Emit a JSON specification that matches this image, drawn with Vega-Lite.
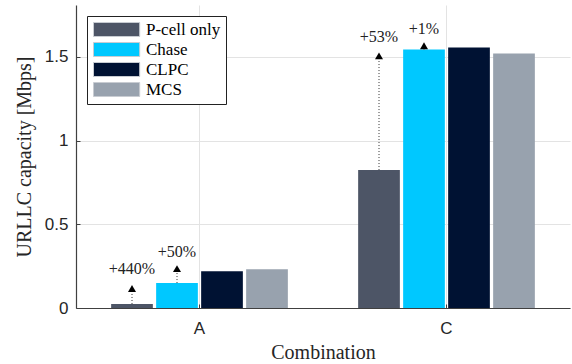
{
  "$schema": "https://vega.github.io/schema/vega-lite/v6.json",
  "width": 494,
  "height": 303,
  "autosize": {"type": "none"},
  "padding": {"left": 76, "top": 5, "right": 2, "bottom": 56},
  "background": "white",
  "config": {
    "view": {"stroke": null},
    "axis": {
      "labelFont": "Liberation Sans, Arial, sans-serif",
      "labelFontSize": 17,
      "labelColor": "#262626",
      "titleFont": "'Liberation Serif', 'Times New Roman', serif",
      "titleFontSize": 20,
      "titleFontWeight": "normal",
      "titleColor": "#262626",
      "domainColor": "#404040",
      "domainWidth": 1.2,
      "gridColor": "#e3e3e3",
      "gridWidth": 1,
      "ticks": true,
      "tickSize": -4,
      "tickColor": "#404040",
      "tickWidth": 1
    }
  },
  "datasets": {
    "bars": [
      {"combo": "A", "series": "P-cell only", "value": 0.024},
      {"combo": "A", "series": "Chase", "value": 0.149},
      {"combo": "A", "series": "CLPC", "value": 0.219},
      {"combo": "A", "series": "MCS", "value": 0.231},
      {"combo": "C", "series": "P-cell only", "value": 0.824},
      {"combo": "C", "series": "Chase", "value": 1.544},
      {"combo": "C", "series": "CLPC", "value": 1.556},
      {"combo": "C", "series": "MCS", "value": 1.52}
    ],
    "ann": [
      {"combo": "A", "series": "P-cell only", "base": 0.024, "tip": 0.116, "ty": 0.231, "label": "+440%"},
      {"combo": "A", "series": "Chase", "base": 0.149, "tip": 0.235, "ty": 0.336, "label": "+50%"},
      {"combo": "C", "series": "P-cell only", "base": 0.824, "tip": 1.506, "ty": 1.62, "label": "+53%"},
      {"combo": "C", "series": "Chase", "base": 1.544, "tip": 1.567, "ty": 1.666, "label": "+1%"}
    ]
  },
  "encoding": {
    "x": {
      "field": "combo",
      "type": "nominal",
      "scale": {"domain": ["A", "C"], "paddingInner": 0, "paddingOuter": 0},
      "axis": {
        "title": "Combination",
        "labelAngle": 0,
        "labelPadding": 16,
        "titlePadding": 6,
        "grid": true,
        "bandPosition": 0.5
      }
    },
    "xOffset": {
      "field": "series",
      "type": "nominal",
      "scale": {
        "domain": ["P-cell only", "Chase", "CLPC", "MCS"],
        "paddingInner": 0.073,
        "paddingOuter": 0.781
      }
    }
  },
  "layer": [
    {
      "data": {"name": "bars"},
      "mark": {"type": "bar"},
      "encoding": {
        "y": {
          "field": "value",
          "type": "quantitative",
          "scale": {"domain": [0, 1.81], "nice": false},
          "axis": {
            "title": "URLLC capacity [Mbps]",
            "values": [0, 0.5, 1, 1.5],
            "format": "~g",
            "labelPadding": 12,
            "titlePadding": 10,
            "grid": true
          }
        },
        "color": {
          "field": "series",
          "type": "nominal",
          "scale": {
            "domain": ["P-cell only", "Chase", "CLPC", "MCS"],
            "range": ["#4d5566", "#00c8ff", "#001233", "#98a2ae"]
          },
          "legend": {
            "title": null,
            "orient": "none",
            "legendX": 11,
            "legendY": 11,
            "fillColor": "white",
            "strokeColor": "#222222",
            "padding": 5,
            "symbolType": "M-1,-1H5.6V1H-1Z",
            "symbolSize": 196,
            "symbolStrokeColor": "#c8ccd2",
            "symbolStrokeWidth": 1,
            "symbolOpacity": 1,
            "labelFont": "'Liberation Serif', 'Times New Roman', serif",
            "labelFontSize": 17,
            "labelColor": "black",
            "labelOffset": 37,
            "rowPadding": 1
          }
        }
      }
    },
    {
      "data": {"name": "ann"},
      "mark": {"type": "rule", "strokeDash": [1, 2], "color": "#333333", "strokeWidth": 1},
      "encoding": {
        "y": {"field": "base", "type": "quantitative"},
        "y2": {"field": "tip"}
      }
    },
    {
      "data": {"name": "ann"},
      "mark": {"type": "point", "shape": "triangle-up", "filled": true, "color": "black", "size": 64, "opacity": 1},
      "encoding": {
        "y": {"field": "tip", "type": "quantitative"}
      }
    },
    {
      "data": {"name": "ann"},
      "mark": {"type": "text", "font": "'Liberation Serif', 'Times New Roman', serif", "fontSize": 16, "color": "#222222", "baseline": "middle", "align": "center"},
      "encoding": {
        "y": {"field": "ty", "type": "quantitative"},
        "text": {"field": "label"}
      }
    }
  ]
}
